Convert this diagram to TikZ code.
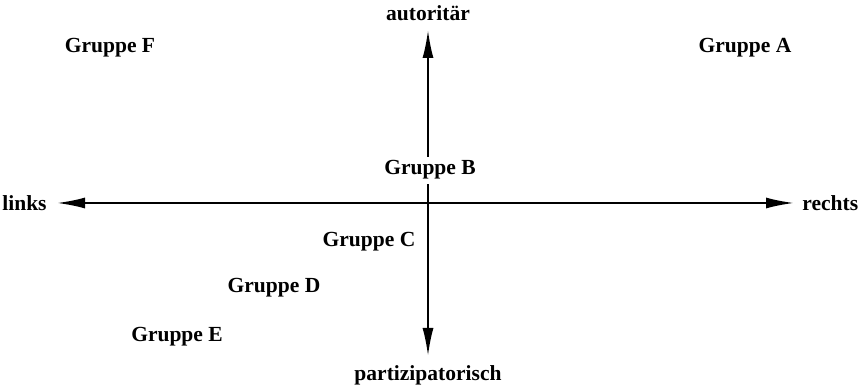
\documentclass[tikz,border=0pt]{standalone}
\usepackage{fontspec}
\setmainfont{Liberation Serif}
\usetikzlibrary{arrows.meta}

\begin{document}
\begin{tikzpicture}[
        x=0.5bp, y=-0.5bp,
        lbl/.style={
            font=\fontsize{10.8}{13}\selectfont\bfseries,
            inner sep=0pt, anchor=base
        },
        axis/.style={draw, line width=1bp,
            {Latex[length=14bp,width=5.5bp]}-{Latex[length=14bp,width=5.5bp]}}
    ]
    \useasboundingbox (0,0) rectangle (864,386);

    % axis ends
    \node [lbl, anchor=east] (links) at (47,203) {links};
    \node [lbl, anchor=west] (rechts) at (802,203) {rechts};
    \node [lbl, anchor=south] (autoritaer) at (428,21) {autoritär};
    \node [lbl, anchor=north] (partizip) at (428,365) {partizipatorisch};

    \draw [axis, shorten <=5bp, shorten >=4bp] (links) -- (rechts);
    \draw [axis, shorten <=4.5bp, shorten >=4.5bp] (autoritaer) -- (partizip);

    % groups
    \node [lbl] (gA) at (745,53) {Gruppe A};
    \node [lbl, fill=white, inner xsep=1pt, inner ysep=2pt] (gB) at (430,175) {Gruppe B};
    \node [lbl] (gC) at (369,247) {Gruppe C};
    \node [lbl] (gD) at (274,293) {Gruppe D};
    \node [lbl] (gE) at (177,342) {Gruppe E};
    \node [lbl] (gF) at (110,53) {Gruppe F};

\end{tikzpicture}
\end{document}
